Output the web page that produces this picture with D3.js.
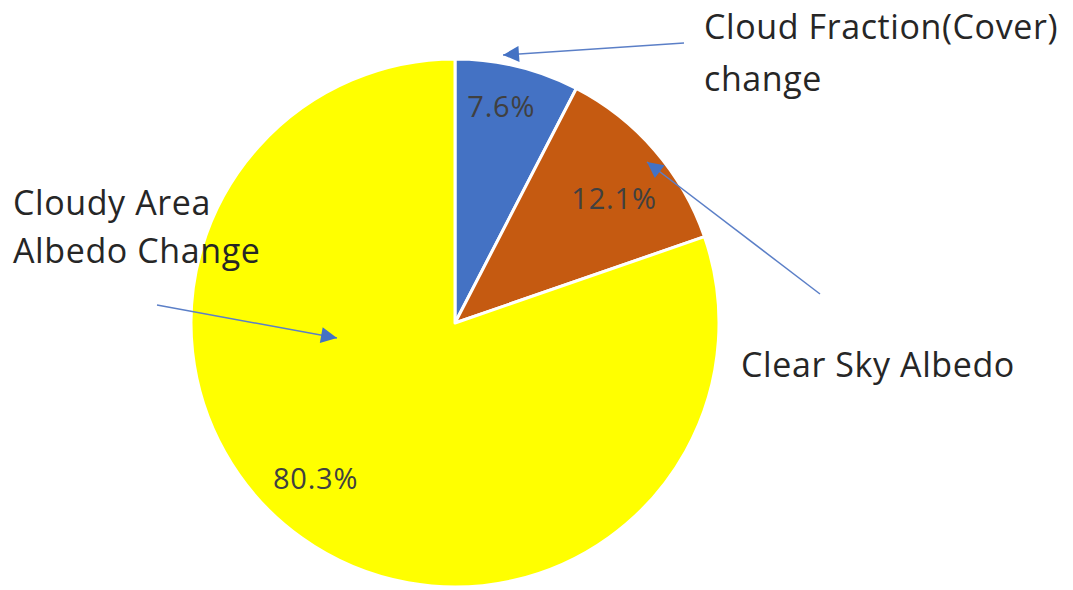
<!DOCTYPE html>
<html>
<head>
<meta charset="utf-8">
<script src="https://cdn.jsdelivr.net/npm/d3@7"></script>
<style>
  html, body { margin: 0; padding: 0; background: #fff; }
  svg { display: block; }
</style>
</head>
<body>
<svg id="chart" width="1073" height="590"></svg>
<script>
// Contributions to the albedo change
const categories = ["Cloud Fraction(Cover) change", "Clear Sky Albedo", "Cloudy Area Albedo Change"];
const values = [7.6, 12.1, 80.3];
const valueLabels = ["7.6%", "12.1%", "80.3%"];
const sliceColors = ["#4472C4", "#C55A11", "#FFFF00"];

// Callout text (each entry is a list of lines)
const calloutLines = [
  ["Cloud Fraction(Cover)", "change"],
  ["Clear Sky Albedo"],
  ["Cloudy Area", "Albedo Change"]
];

// Layout
const W = 1073, H = 590;
const cx = 455, cy = 323, R = 264;
const fontFamily = "'Open Sans', Lato, 'Liberation Sans', sans-serif";

// per-slice label nudges: angle shift (deg) and radius fraction
const labelPlacement = [
  { dAngle: -1.6, rf: 0.837 },
  { dAngle: 2.7, rf: 0.766 },
  { dAngle: 6.5, rf: 0.79 }
];

// Callout geometry: text anchor, line spacing and arrow start -> tip
const calloutLayout = [
  { tx: 704, ty: 39, lh: 52, from: [684, 43], to: [503, 55] },
  { tx: 741, ty: 377, lh: 48, from: [820, 294], to: [647, 162] },
  { tx: 13, ty: 215, lh: 48, from: [157, 305], to: [337, 338] }
];

const svg = d3.select("#chart");

const defs = svg.append("defs");
defs.append("marker")
  .attr("id", "arrowHead")
  .attr("viewBox", "0 0 10 10")
  .attr("refX", 10).attr("refY", 5)
  .attr("markerUnits", "userSpaceOnUse")
  .attr("markerWidth", 20).attr("markerHeight", 16)
  .attr("orient", "auto")
  .append("path")
  .attr("d", "M0,0 L10,5 L0,10 Z")
  .attr("fill", "#4472C4");

const pie = d3.pie().sort(null).value(d => d);
const arcs = pie(values);
const arc = d3.arc().innerRadius(0).outerRadius(R);

const g = svg.append("g").attr("transform", `translate(${cx},${cy})`);

g.selectAll("path.slice")
  .data(arcs)
  .join("path")
  .attr("class", "slice")
  .attr("d", arc)
  .attr("fill", (d, i) => sliceColors[i])
  .attr("stroke", "#fff")
  .attr("stroke-width", 3)
  .attr("stroke-linejoin", "round");

// value labels
g.selectAll("text.value")
  .data(arcs)
  .join("text")
  .attr("class", "value")
  .attr("transform", (d, i) => {
    const p = labelPlacement[i];
    const a = (d.startAngle + d.endAngle) / 2 + p.dAngle * Math.PI / 180;
    const r = R * p.rf;
    return `translate(${r * Math.sin(a)},${-r * Math.cos(a)})`;
  })
  .attr("text-anchor", "middle")
  .attr("dy", "0.36em")
  .attr("font-family", fontFamily)
  .attr("font-size", 29)
  .attr("letter-spacing", 0.8)
  .attr("fill", "#404040")
  .text((d, i) => valueLabels[i]);

// callout arrows
svg.selectAll("line.callout")
  .data(calloutLayout)
  .join("line")
  .attr("class", "callout")
  .attr("x1", d => d.from[0]).attr("y1", d => d.from[1])
  .attr("x2", d => d.to[0]).attr("y2", d => d.to[1])
  .attr("stroke", "#5B7FC7")
  .attr("stroke-width", 1.5)
  .attr("marker-end", "url(#arrowHead)");

// callout text
calloutLayout.forEach((c, i) => {
  const t = svg.append("text")
    .attr("x", c.tx).attr("y", c.ty)
    .attr("font-family", fontFamily)
    .attr("font-size", 34)
    .attr("letter-spacing", 0.6)
    .attr("fill", "#262626");
  calloutLines[i].forEach((line, j) => {
    t.append("tspan").attr("x", c.tx).attr("dy", j === 0 ? 0 : c.lh).text(line);
  });
});
</script>
</body>
</html>
